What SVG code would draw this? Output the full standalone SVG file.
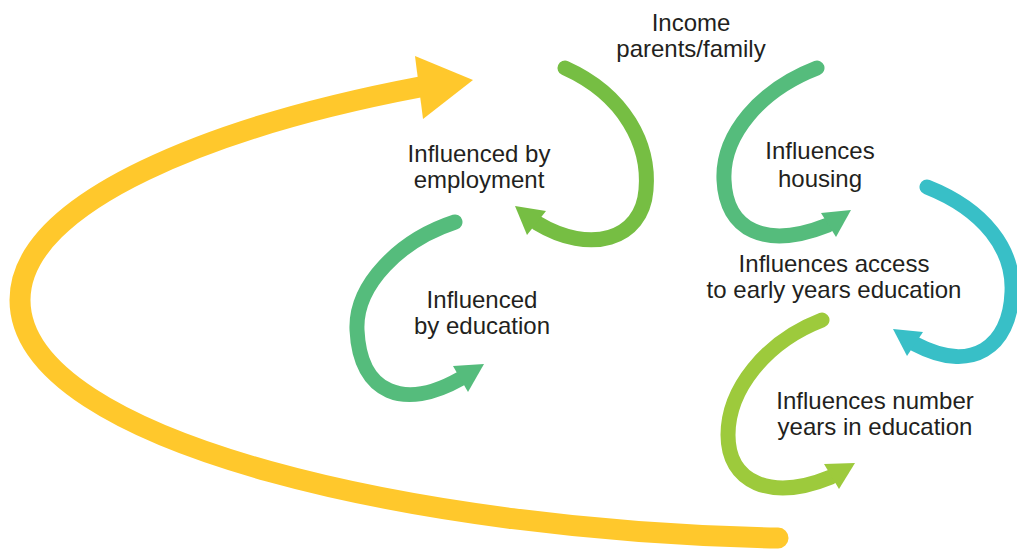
<svg xmlns="http://www.w3.org/2000/svg" width="1017" height="550" viewBox="0 0 1017 550">
<style>
.lbl{font-family:"Liberation Sans",Arial,Helvetica,sans-serif;font-size:24px;fill:#231F20;text-anchor:middle}
.arc{fill:none;stroke-linecap:round}
.yel{stroke:#FFC82C;stroke-width:21}
.g1{stroke:#76BE43;stroke-width:15}
.g2{stroke:#55BC7C;stroke-width:15}
.cy{stroke:#38BFC7;stroke-width:15}
.li{stroke:#9DCA3C;stroke-width:15}
</style>
<rect width="1017" height="550" fill="#FFFFFF"/>
<g id="connectors">
  <g id="arrow-income-loop">
    <path class="arc yel" d="M778,538 C430,532 20,445 20,300 C20,200 220,125 420,87"/>
    <polygon points="415,56 473,80 423,119" fill="#FFC82C"/>
  </g>
  <g id="arrow-employment">
    <path class="arc g1" d="M565,68 C625,95 650,145 646,190 C642,240 590,255 537,223"/>
    <polygon points="515,206 546,211 527,235" fill="#76BE43"/>
  </g>
  <g id="arrow-education">
    <path class="arc g2" d="M455,222 C400,240 355,285 357,330 C360,395 405,410 460,379"/>
    <polygon points="484,364 453,366 468,392" fill="#55BC7C"/>
  </g>
  <g id="arrow-housing">
    <path class="arc g2" d="M817,68 C760,90 722,135 724,180 C726,230 765,250 828,225"/>
    <polygon points="851,210 821,213 836,237" fill="#55BC7C"/>
  </g>
  <g id="arrow-early-years">
    <path class="arc cy" d="M927,187 C985,210 1014,250 1012,292 C1010,347 972,374 915,344"/>
    <polygon points="893,329 923,332 907,356" fill="#38BFC7"/>
  </g>
  <g id="arrow-years-education">
    <path class="arc li" d="M822,320 C765,342 728,390 728,435 C728,482 770,502 831,477"/>
    <polygon points="855,463 824,464 839,489" fill="#9DCA3C"/>
  </g>
</g>
<g id="node-income">
  <text class="lbl" x="691" y="31">Income</text>
  <text class="lbl" x="691" y="57">parents/family</text>
</g>
<g id="node-employment">
  <text class="lbl" x="479" y="162">Influenced by</text>
  <text class="lbl" x="479" y="188">employment</text>
</g>
<g id="node-education">
  <text class="lbl" x="482" y="308">Influenced</text>
  <text class="lbl" x="482" y="334">by education</text>
</g>
<g id="node-housing">
  <text class="lbl" x="820" y="159">Influences</text>
  <text class="lbl" x="820" y="187">housing</text>
</g>
<g id="node-early-years">
  <text class="lbl" x="834" y="272">Influences access</text>
  <text class="lbl" x="834" y="298">to early years education</text>
</g>
<g id="node-years-education">
  <text class="lbl" x="875" y="409">Influences number</text>
  <text class="lbl" x="875" y="435">years in education</text>
</g>
</svg>
